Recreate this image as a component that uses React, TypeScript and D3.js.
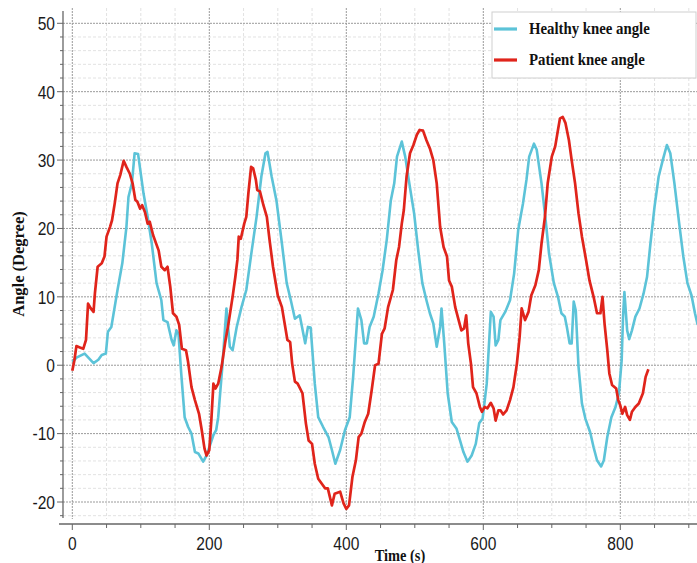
import React from "react";
import * as d3 from "d3";

// healthy knee (cyan)
const healthyTime = [
  0, 6, 18, 31, 38, 43, 49, 52, 57, 66, 73, 79, 82, 87, 91, 96, 104, 110, 116, 123, 130, 133, 139, 145, 148, 152, 155,
  159, 164, 169, 174, 179, 184, 191, 196, 206, 210, 213, 219, 225, 230, 234, 240, 247, 254, 262, 269, 276, 282, 285,
  291, 298, 306, 313, 319, 325, 332, 340, 344, 348, 354, 359, 366, 374, 379, 384, 391, 398, 405, 410, 417, 422, 426,
  430, 434, 440, 447, 453, 459, 465, 470, 474, 481, 486, 492, 499, 505, 511, 517, 522, 527, 532, 537, 539, 543, 548,
  554, 561, 566, 571, 577, 583, 589, 594, 599, 605, 611, 615, 618, 622, 625, 632, 639, 645, 651, 658, 663, 667, 674,
  678, 685, 691, 696, 703, 709, 714, 719, 722, 726, 729, 732, 735, 739, 744, 749, 756, 761, 766, 772, 776, 781, 787,
  793, 798, 802, 804, 806, 810, 813, 817, 822, 828, 834, 839, 844, 850, 856, 862, 868, 873, 879, 886, 892, 898, 904,
  909, 913
];
const healthyAngle = [
  0.5, 1.1, 1.7, 0.3, 0.8, 1.5, 1.7, 4.9, 5.6, 11, 14.9, 20.2, 24.6, 26.6, 31, 30.9, 25.1, 21.7, 17.8, 12, 9.5, 6.6,
  6.3, 3.7, 2.9, 5.1, 4.6, -1.2, -7.6, -9, -10, -12.7, -12.9, -14.1, -13.2, -10.2, -9.5, -7.6, -0.2, 8.3, 2.7, 2.2,
  5.6, 8.5, 11, 16.8, 21.7, 27.6, 31, 31.2, 27.6, 24.1, 17.8, 12, 9.5, 6.8, 7.3, 3.2, 5.6, 5.5, -2.7, -7.6, -9, -10.5,
  -12.4, -14.4, -12.4, -9.5, -7.6, -1.7, 8.3, 6.6, 3.2, 3.2, 5.6, 7.1, 10.5, 13.9, 18.3, 24.1, 26.6, 30.5, 32.7, 30.5,
  26.6, 22.2, 16.8, 12, 9.5, 7.6, 6.1, 2.7, 5.6, 8.3, 3.2, -4.1, -8.3, -9.3, -11, -12.7, -14.1, -13.2, -11.5, -8.5,
  -7.8, -2.7, 7.8, 7.1, 2.9, 3.7, 6.6, 7.8, 9.5, 13.4, 19.8, 23.7, 27.1, 30.5, 32.4, 31.5, 26.6, 21.2, 16.3, 12, 10,
  7.6, 7.1, 5.6, 3.2, 3.2, 9.3, 8, -0.2, -5.6, -7.8, -9.8, -12, -13.9, -14.8, -13.9, -10.5, -7.6, -6.1, -4.1, 0.7,
  7.1, 10.7, 5.1, 3.8, 5.1, 7.1, 8.3, 10.5, 12.9, 17.8, 23.2, 27.6, 30, 32.2, 31, 26.6, 20.7, 15.9, 12, 10.2, 7.6, 5.9
];

// patient knee (red)
const patientTime = [
  0, 3, 6, 11, 16, 20, 23, 27, 31, 33, 37, 43, 47, 50, 55, 58, 62, 66, 70, 75, 79, 84, 88, 92, 95, 99, 102, 106, 110,
  113, 118, 126, 130, 135, 139, 143, 147, 152, 156, 160, 166, 169, 174, 179, 185, 189, 193, 196, 200, 203, 206, 209,
  213, 218, 223, 228, 234, 238, 241, 243, 246, 251, 254, 257, 261, 264, 268, 270, 274, 279, 284, 288, 293, 300, 306,
  310, 314, 318, 321, 325, 329, 336, 341, 345, 350, 354, 359, 364, 369, 373, 379, 383, 391, 396, 400, 404, 409, 414,
  418, 422, 427, 432, 437, 442, 447, 452, 456, 461, 468, 473, 477, 481, 484, 488, 493, 498, 503, 507, 512, 517, 522,
  527, 532, 537, 542, 547, 550, 554, 559, 564, 568, 572, 575, 578, 582, 585, 590, 595, 598, 602, 606, 611, 615, 618,
  622, 625, 629, 634, 639, 644, 649, 653, 656, 661, 666, 670, 676, 681, 685, 690, 694, 700, 705, 709, 712, 716, 720,
  725, 729, 734, 739, 744, 750, 755, 761, 766, 771, 774, 777, 781, 784, 788, 794, 797, 800, 803, 807, 810, 814, 817,
  822, 827, 833, 837, 841
];
const patientAngle = [
  -0.8, 0.7, 2.8, 2.6, 2.4, 3.7, 9, 8.3, 7.8, 10.5, 14.4, 14.9, 15.9, 18.8, 20.2, 21.2, 23.7, 26.6, 27.8, 29.9, 29, 28,
  26.6, 24.2, 23.9, 22.9, 23.4, 22.4, 20.7, 21, 19, 16.8, 14.4, 13.9, 14.4, 11.5, 7.6, 7.1, 5.9, 2.4, 2.2, 0.5, -3.2,
  -5.1, -7.1, -9.5, -12.2, -13.2, -12.4, -8, -2.7, -3.4, -2.7, -0.2, 3.2, 6.1, 10, 12.9, 15.4, 18.8, 18.5, 20.7, 21.7,
  25.1, 29, 28.8, 27.1, 25.6, 25.4, 23.4, 21.7, 18.3, 14.4, 10.2, 8.5, 6.1, 3.7, 3.4, 0.2, -2.4, -2.7, -4.1, -8.5, -11,
  -11.5, -14.4, -16.6, -17.3, -18, -18, -20.5, -18.8, -18.5, -20.2, -21, -20.5, -16.3, -13.9, -10.5, -10, -8.3, -7.1,
  -3.7, 0, 0.2, 4.6, 5.4, 8.5, 11, 15.4, 17.3, 20.7, 22.7, 27.6, 31, 32.2, 33.7, 34.4, 34.3, 32.9, 31.7, 30, 26.6,
  20.2, 17.3, 15.9, 12.4, 11.5, 8.5, 6.6, 5.1, 5.4, 7.3, 3.2, 0.2, -3.2, -4.1, -6.1, -6.8, -6.1, -6.3, -5.5, -6.3,
  -8.1, -6.6, -6.6, -7.2, -6.6, -5.1, -3.2, 0.2, 4.1, 8.3, 6.6, 7.8, 10.2, 11.7, 13.9, 17.8, 21.7, 26.6, 30.5, 32, 34.4,
  36.1, 36.3, 35.4, 32.9, 30, 26.6, 22.2, 18.8, 15.4, 12.4, 10, 7.6, 7.6, 10, 6.1, 2.2, -1.2, -2.9, -3.4, -5.1, -5.9,
  -7.1, -6.1, -7.3, -8, -6.8, -6.1, -5.6, -4.1, -1.7, -0.6
];

const xTickLabels = [0, 200, 400, 600, 800];
const yTickLabels = [-20, -10, 0, 10, 20, 30, 40, 50];
const seriesNames = ["Healthy knee angle", "Patient knee angle"];
const seriesColors = ["#5cc3d8", "#e0241b"];

const W = 697;
const H = 563;

function App() {
  const x = d3.scaleLinear().domain([0, 800]).range([72.3, 620.3]);
  const y = d3.scaleLinear().domain([-20, 50]).range([502, 23.3]);

  const axisX = 63; // y axis line position
  const axisY = 524; // x axis line position
  const plotTop = 8;
  const plotBottom = 519;

  const xMax = x.invert(W);
  const xMinor = d3.range(0, xMax, 50);
  const yMinor = d3.range(-22, 52, 2);

  const line = d3
    .line<[number, number]>()
    .x(d => x(d[0]))
    .y(d => y(d[1]));

  const healthy = healthyTime.map((t, i) => [t, healthyAngle[i]] as [number, number]);
  const patient = patientTime.map((t, i) => [t, patientAngle[i]] as [number, number]);

  const tickFont = "'Liberation Sans', Arial, sans-serif";
  const labelFont = "'Liberation Serif', 'Times New Roman', serif";

  return (
    <svg width={W} height={H} style={{ position: "absolute", left: 0, top: 0, background: "#fff" }}>
      <defs>
        <clipPath id="plot">
          <rect x={axisX} y={plotTop} width={W - axisX} height={plotBottom - plotTop} />
        </clipPath>
      </defs>

      {/* light grid */}
      {xMinor.map(v => (
        <line
          key={"gx" + v}
          x1={x(v)}
          x2={x(v)}
          y1={plotTop}
          y2={plotBottom}
          stroke={v % 200 === 0 ? "#9a9a9a" : "#e2e2e2"}
          strokeWidth={1}
          strokeDasharray={v % 200 === 0 ? "2,1" : "3,2"}
        />
      ))}
      {yMinor.map(v => (
        <line
          key={"gy" + v}
          x1={axisX}
          x2={W}
          y1={y(v)}
          y2={y(v)}
          stroke={v % 10 === 0 ? "#9a9a9a" : "#e2e2e2"}
          strokeWidth={1}
          strokeDasharray={v % 10 === 0 ? "2,1" : "3,2"}
        />
      ))}

      {/* series */}
      <g clipPath="url(#plot)">
        <path d={line(healthy) || ""} fill="none" stroke={seriesColors[0]} strokeWidth={2.6} strokeLinejoin="round" />
        <path d={line(patient) || ""} fill="none" stroke={seriesColors[1]} strokeWidth={2.7} strokeLinejoin="round" />
      </g>

      {/* y axis */}
      <line x1={axisX} x2={axisX} y1={11} y2={518} stroke="#666" strokeWidth={1.3} />
      {yMinor.map(v => (
        <line
          key={"ty" + v}
          x1={v % 10 === 0 ? axisX - 6 : axisX - 3}
          x2={axisX}
          y1={y(v)}
          y2={y(v)}
          stroke="#666"
          strokeWidth={1}
        />
      ))}
      {yTickLabels.map(v => (
        <text
          key={"ly" + v}
          transform={`translate(55,${y(v)}) scale(0.82,1)`}
          dy="0.36em"
          textAnchor="end"
          fontFamily={tickFont}
          fontSize={19}
          fill="#1a1a1a"
        >
          {v}
        </text>
      ))}

      {/* x axis */}
      <line x1={59} x2={W} y1={axisY} y2={axisY} stroke="#666" strokeWidth={1.3} />
      {xMinor.map(v => (
        <line
          key={"tx" + v}
          x1={x(v)}
          x2={x(v)}
          y1={axisY}
          y2={axisY + (v % 200 === 0 ? 6 : 4)}
          stroke="#666"
          strokeWidth={1}
        />
      ))}
      {xTickLabels.map(v => (
        <text
          key={"lx" + v}
          transform={`translate(${x(v)},550) scale(0.82,1)`}
          textAnchor="middle"
          fontFamily={tickFont}
          fontSize={19}
          fill="#1a1a1a"
        >
          {v}
        </text>
      ))}

      {/* axis titles */}
      <text
        transform="translate(24,264) rotate(-90)"
        textAnchor="middle"
        fontFamily={labelFont}
        fontWeight="bold"
        fontSize={16.5}
        fill="#111"
      >
        Angle (Degree)
      </text>
      <text
        transform="translate(400,561) scale(0.9,1)"
        textAnchor="middle"
        fontFamily={labelFont}
        fontWeight="bold"
        fontSize={16}
        fill="#111"
      >
        Time (s)
      </text>

      {/* legend */}
      <rect x={492} y={12} width={204} height={66} fill="#fff" stroke="#cfcfcf" strokeWidth={1} />
      {seriesNames.map((name, i) => (
        <g key={name}>
          <line x1={494} x2={517} y1={29 + i * 31} y2={29 + i * 31} stroke={seriesColors[i]} strokeWidth={3.2} />
          <text
            transform={`translate(529,${34 + i * 31}) scale(0.87,1)`}
            fontFamily={labelFont}
            fontWeight="bold"
            fontSize={17}
            fill="#111"
          >
            {name}
          </text>
        </g>
      ))}
    </svg>
  );
}

export default App;
